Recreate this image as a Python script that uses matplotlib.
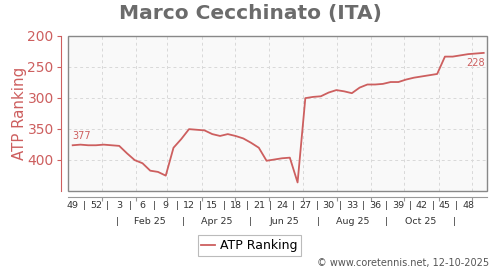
import numpy as np
import matplotlib
matplotlib.use("Agg")
import matplotlib.pyplot as plt
import matplotlib.dates as mdates
import matplotlib.transforms as mtransforms
from matplotlib.patches import Rectangle

# ---- data ----
first_week_monday = "2024-12-02"
ranking = [377, 376, 377, 377, 376, 377, 378, 390, 401, 406,
           418, 420, 426, 381, 367, 351, 352, 353, 359, 362,
           359, 362, 366, 373, 381, 402, 400, 398, 397, 437,
           301, 299, 298, 292, 288, 290, 293, 284, 279, 279,
           278, 275, 275, 271, 268, 266, 264, 262, 234, 234,
           232, 230, 229, 228]
week_labels = ["49", "52", "3", "6", "9", "12", "15", "18", "21", "24",
               "27", "30", "33", "36", "39", "42", "45", "48"]
month_labels = ["Feb 25", "Apr 25", "Jun 25", "Aug 25", "Oct 25"]
y_ticks = [200, 250, 300, 350, 400]

RED = "#cd5f5f"
GRAY = "#6b6b6b"

start = np.datetime64(first_week_monday) + np.timedelta64(84, "h")  # mid-week
dates = start + np.arange(len(ranking)) * np.timedelta64(7, "D")
x = mdates.date2num(dates.astype("datetime64[s]").astype(object))

fig = plt.figure(figsize=(5, 2.7), dpi=100)
ax = fig.add_axes([0.1366, 0.2944, 0.838, 0.574])
ax.set_facecolor("#f9f9f9")

ax.plot(x, ranking, color=RED, lw=1.3, label="ATP Ranking", solid_joinstyle="round")

x0 = mdates.date2num(np.datetime64("2024-12-01T13:00").astype(object))
x1 = mdates.date2num(np.datetime64("2025-12-14T18:00").astype(object))
ax.set_xlim(x0, x1)
ax.set_ylim(450, 200)

# month grid
months = [np.datetime64(f"2025-{m:02d}-01") for m in range(1, 13)]
mx = [mdates.date2num(m.astype(object)) for m in months]
ax.set_xticks(mx)
ax.set_xticklabels([])
ax.set_yticks(y_ticks)
ax.set_yticklabels([str(v) for v in y_ticks], color=RED, fontsize=8.5)
ax.grid(True, color="#d9d9d9", ls=(0, (3, 3)), lw=0.7)
ax.set_axisbelow(True)

# spines
for s in ["top", "right"]:
    ax.spines[s].set_visible(False)
ax.spines["left"].set_position(("outward", 5))
ax.spines["left"].set_color(RED)
ax.spines["left"].set_linewidth(0.8)
ax.spines["bottom"].set_position(("outward", 5))
ax.spines["bottom"].set_color("#999999")
ax.spines["bottom"].set_linewidth(0.8)
ax.tick_params(axis="y", colors=RED, length=3, width=0.8, pad=2.5)
ax.tick_params(axis="x", colors="#999999", length=3, width=0.8)
ax.add_patch(Rectangle((0, 0), 1, 1, transform=ax.transAxes, fill=False,
                       edgecolor="#888888", lw=1.0, clip_on=False, zorder=5))

# week label row
trans = mtransforms.blended_transform_factory(ax.transData, fig.transFigure)
FS = 6.8
lab_idx = np.arange(0, len(ranking), 3)[:len(week_labels)]
for i, lab in zip(lab_idx, week_labels):
    ax.text(x[i], 1 - 206 / 270, lab, transform=trans, ha="center", va="center",
            fontsize=FS, color="#333333")
for i in lab_idx[:-1]:
    xm = (x[i] + x[i + 3]) / 2
    ax.text(xm, 1 - 206 / 270, "|", transform=trans, ha="center", va="center",
            fontsize=FS, color="#333333")

# month label row
seps = [np.datetime64(f"2025-{m:02d}-15") for m in (1, 3, 5, 7, 9, 11)]
sx = [mdates.date2num(s.astype(object)) for s in seps]
for xs in sx:
    ax.text(xs, 1 - 221 / 270, "|", transform=trans, ha="center", va="center",
            fontsize=FS, color="#333333")
for k, lab in enumerate(month_labels):
    ax.text((sx[k] + sx[k + 1]) / 2, 1 - 221 / 270, lab, transform=trans,
            ha="center", va="center", fontsize=FS, color="#333333")

# annotations
ax.annotate(str(ranking[0]), (x[0], ranking[0]), xytext=(0, 3),
            textcoords="offset points", ha="left", va="bottom",
            fontsize=7, color=RED)
ax.annotate(str(ranking[-1]), (x[-1], ranking[-1]), xytext=(1, -4),
            textcoords="offset points", ha="right", va="top",
            fontsize=7, color=RED)

ax.set_ylabel("ATP Ranking", color=RED, fontsize=10.8)
ax.yaxis.set_label_coords(-0.099, 0.5)

fig.text(0.5, 1 - 13 / 270, "Marco Cecchinato (ITA)", ha="center", va="center",
         fontsize=14.5, fontweight="bold", color=GRAY)

leg = fig.legend(loc="center", bbox_to_anchor=(0.499, 1 - 245.5 / 270),
                 fontsize=9, frameon=True, fancybox=False, handlelength=1.1,
                 handletextpad=0.4, borderpad=0.3, borderaxespad=0)
leg.get_frame().set_edgecolor("#aaaaaa")
leg.get_frame().set_linewidth(0.8)

fig.text(0.978, 1 - 263 / 270, "\u00a9 www.coretennis.net, 12-10-2025",
         ha="right", va="center", fontsize=7, color="#555555")

fig.savefig("out.png", dpi=100)
